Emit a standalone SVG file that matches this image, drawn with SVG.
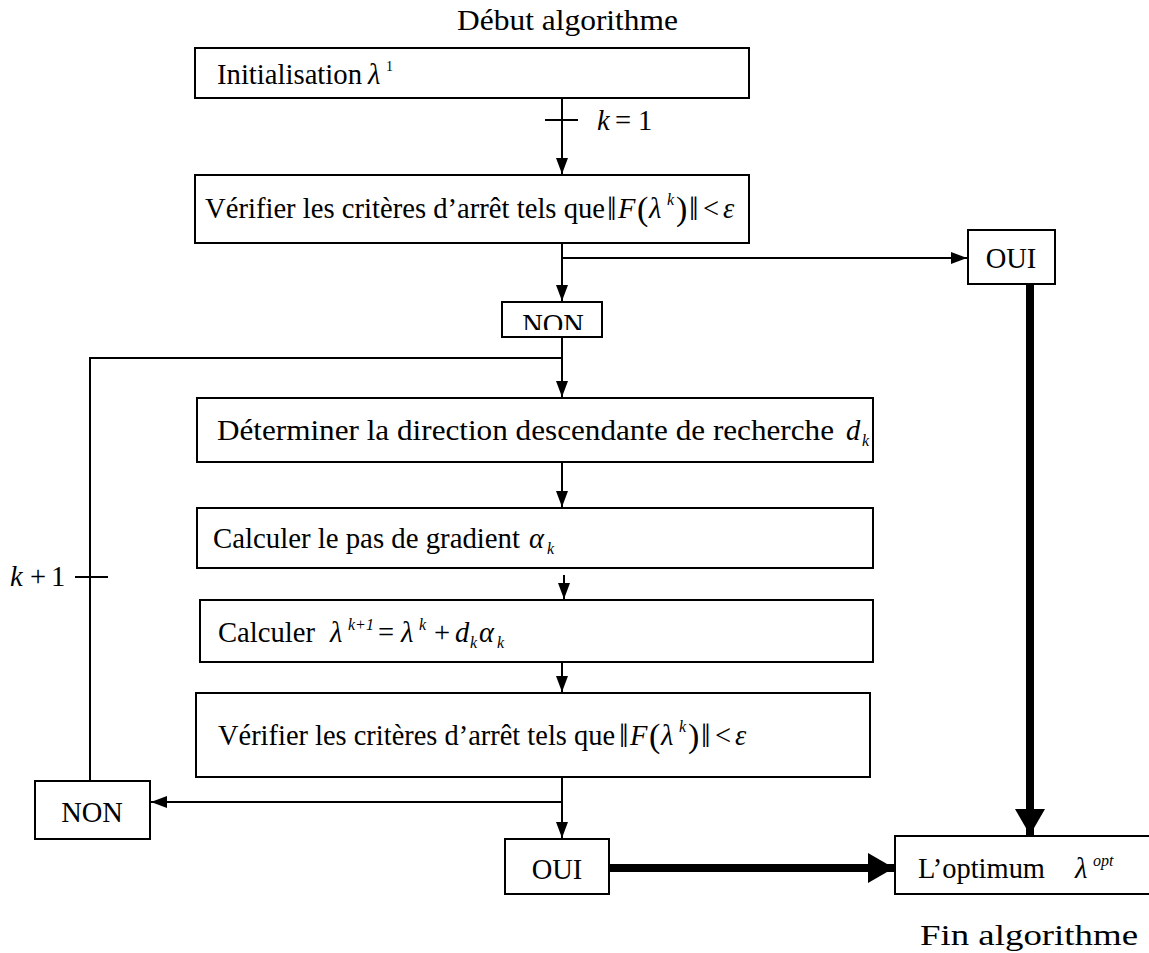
<svg xmlns="http://www.w3.org/2000/svg" width="1149" height="953" viewBox="0 0 1149 953">
<style>
.box{fill:#fff;stroke:#000;stroke-width:2}
.ln{fill:none;stroke:#000;stroke-width:2}
.thick{fill:none;stroke:#000;stroke-width:8}
text{font-family:"Liberation Serif","Times New Roman",serif;font-size:28.5px;fill:#000}
.it{font-style:italic}
.sup{font-size:16px;font-style:italic}
.bar{font-size:34px}
</style>
<defs>
<marker id="arr" markerUnits="userSpaceOnUse" viewBox="0 0 16 12" refX="16" refY="6" markerWidth="16" markerHeight="12" orient="auto"><path d="M0,0 L16,6 L0,12 z" fill="#000"/></marker>
<marker id="arrBig" markerUnits="userSpaceOnUse" viewBox="0 0 26 30" refX="26" refY="15" markerWidth="26" markerHeight="30" orient="auto"><path d="M0,0 L26,15 L0,30 z" fill="#000"/></marker>
<clipPath id="nonclip"><rect x="502" y="302" width="100" height="28"/></clipPath>
</defs>

<text id="start" x="457" y="30" textLength="221" lengthAdjust="spacingAndGlyphs">Début algorithme</text>

<g id="connectors">
<line class="ln" x1="562" y1="98" x2="562" y2="174" marker-end="url(#arr)"/>
<line class="ln" x1="545" y1="120" x2="578" y2="120"/>
<text x="597" y="130" class="it">k</text><text x="615" y="130">=</text><text x="638" y="130">1</text>
<line class="ln" x1="562" y1="243" x2="562" y2="301" marker-end="url(#arr)"/>
<line class="ln" x1="562" y1="258" x2="967" y2="258" marker-end="url(#arr)"/>
<line class="ln" x1="562" y1="337" x2="562" y2="397" marker-end="url(#arr)"/>
<polyline class="ln" points="562,358 90,358 90,781"/>
<line class="ln" x1="75" y1="577" x2="108" y2="577"/>
<text x="10" y="586" class="it">k</text><text x="30" y="586">+</text><text x="51" y="586">1</text>
<line class="ln" x1="562" y1="462" x2="562" y2="507" marker-end="url(#arr)"/>
<line class="ln" x1="564" y1="575" x2="564" y2="599" marker-end="url(#arr)"/>
<line class="ln" x1="562" y1="662" x2="562" y2="692" marker-end="url(#arr)"/>
<line class="ln" x1="562" y1="777" x2="562" y2="838" marker-end="url(#arr)"/>
<line class="ln" x1="562" y1="802" x2="151" y2="802" marker-end="url(#arr)"/>
<line class="thick" x1="1030" y1="284" x2="1030" y2="835" marker-end="url(#arrBig)"/>
<line class="thick" x1="609" y1="868" x2="894" y2="868" marker-end="url(#arrBig)"/>
</g>

<g id="init">
<rect class="box" x="195" y="48" width="554" height="50"/>
<text x="217" y="84" textLength="145" lengthAdjust="spacingAndGlyphs">Initialisation</text>
<text x="368" y="84" class="it">λ</text><text x="386" y="71" style="font-size:14px">1</text>
</g>

<g id="check1">
<rect class="box" x="195" y="175" width="554" height="68"/>
<text x="205" y="218" textLength="400" lengthAdjust="spacingAndGlyphs">Vérifier les critères d’arrêt tels que</text>
<text x="607" y="220" class="bar">‖</text>
<text x="618" y="218" class="it">F</text>
<text x="637" y="220" class="bar">(</text>
<text x="649" y="218" class="it">λ</text><text x="667" y="205" class="sup">k</text>
<text x="676" y="220" class="bar">)</text>
<text x="689" y="220" class="bar">‖</text>
<text x="703" y="218">&lt;</text>
<text x="723" y="218" class="it">ε</text>
</g>

<g id="oui1">
<rect class="box" x="968" y="230" width="87" height="54"/>
<text x="1011" y="268" text-anchor="middle">OUI</text>
</g>

<g id="non1">
<rect class="box" x="502" y="302" width="100" height="35"/>
<text x="553" y="334" text-anchor="middle" clip-path="url(#nonclip)">NON</text>
</g>

<g id="direction">
<rect class="box" x="197" y="398" width="676" height="64"/>
<text x="217" y="440" textLength="617" lengthAdjust="spacingAndGlyphs">Déterminer la direction descendante de recherche</text>
<text x="846" y="440" class="it">d</text><text x="862" y="446" class="sup">k</text>
</g>

<g id="step">
<rect class="box" x="197" y="508" width="676" height="60"/>
<text x="213" y="548" textLength="307" lengthAdjust="spacingAndGlyphs">Calculer le pas de gradient</text>
<text x="529" y="548" class="it">α</text><text x="547" y="554" class="sup">k</text>
</g>

<g id="update">
<rect class="box" x="200" y="600" width="673" height="62"/>
<text x="218" y="642" textLength="97" lengthAdjust="spacingAndGlyphs">Calculer</text>
<text x="330" y="642" class="it">λ</text><text x="348" y="630" class="sup">k+1</text>
<text x="378" y="642">=</text>
<text x="401" y="642" class="it">λ</text><text x="419" y="630" class="sup">k</text>
<text x="434" y="642">+</text>
<text x="455" y="642" class="it">d</text><text x="470" y="648" class="sup">k</text>
<text x="479" y="642" class="it">α</text><text x="497" y="648" class="sup">k</text>
</g>

<g id="check2">
<rect class="box" x="196" y="693" width="674" height="84"/>
<text x="218" y="745" textLength="397" lengthAdjust="spacingAndGlyphs">Vérifier les critères d’arrêt tels que</text>
<text x="619" y="747" class="bar">‖</text>
<text x="630" y="745" class="it">F</text>
<text x="649" y="747" class="bar">(</text>
<text x="661" y="745" class="it">λ</text><text x="679" y="732" class="sup">k</text>
<text x="688" y="747" class="bar">)</text>
<text x="701" y="747" class="bar">‖</text>
<text x="715" y="745">&lt;</text>
<text x="735" y="745" class="it">ε</text>
</g>

<g id="non2">
<rect class="box" x="35" y="781" width="115" height="58"/>
<text x="92" y="822" text-anchor="middle">NON</text>
</g>

<g id="oui2">
<rect class="box" x="505" y="839" width="104" height="55"/>
<text x="557" y="879" text-anchor="middle">OUI</text>
</g>

<g id="optimum">
<rect class="box" x="895" y="836" width="260" height="58"/>
<text x="918" y="878" textLength="127" lengthAdjust="spacingAndGlyphs">L’optimum</text>
<text x="1075" y="878" class="it">λ</text><text x="1093" y="866" class="sup">opt</text>
</g>

<text id="end" x="920" y="945" textLength="218" lengthAdjust="spacingAndGlyphs">Fin algorithme</text>
</svg>
